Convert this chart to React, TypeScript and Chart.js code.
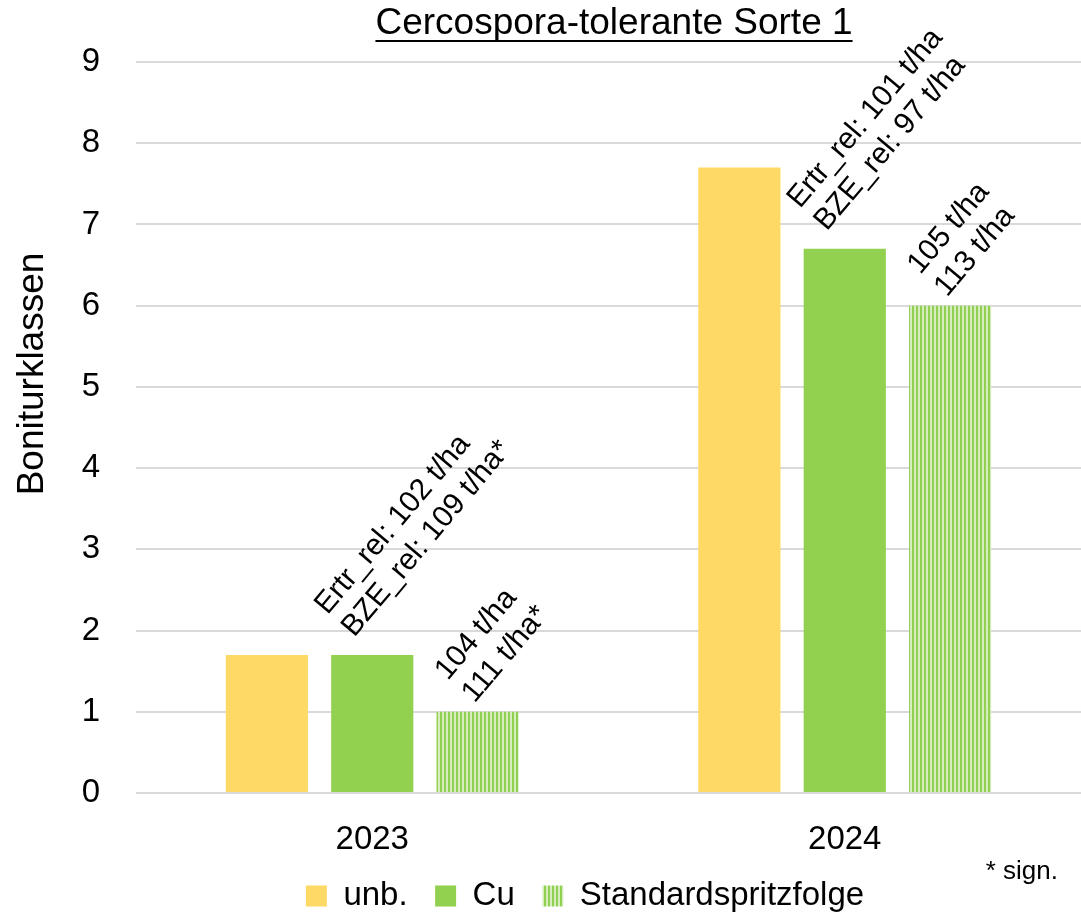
import React, { useEffect, useRef } from "react";
import { Chart, registerables } from "chart.js";

Chart.register(...registerables);

// ---- data ----
const categories = ["2023", "2024"];
const seriesNames = ["unb.", "Cu", "Standardspritzfolge"];
const unbValues = [1.7, 7.7];
const cuValues = [1.7, 6.7];
const standardValues = [1.0, 6.0];
const cuLabels = [
  ["Ertr_rel: 102 t/ha", "BZE_rel: 109 t/ha*"],
  ["Ertr_rel: 101 t/ha", "BZE_rel: 97 t/ha"],
];
const standardLabels = [
  ["104 t/ha", "111 t/ha*"],
  ["105 t/ha", "113 t/ha"],
];
const yMin = 0;
const yMax = 9;
const yStep = 1;
const chartTitle = "Cercospora-tolerante Sorte 1";
const yAxisTitle = "Boniturklassen";
const footnote = "* sign.";

// ---- styles ----
const FONT = "'Liberation Sans', Arial, sans-serif";
const YELLOW = "#FFD966";
const GREEN = "#92D050";
const GREEN_LIGHT = "#D6EDBF";
const GRID = "#D9D9D9";
const LABEL_ANGLE = (50 * Math.PI) / 180;

function stripePattern(): CanvasPattern | string {
  const tile = document.createElement("canvas");
  tile.width = 4;
  tile.height = 4;
  const t = tile.getContext("2d");
  if (!t) return GREEN;
  t.fillStyle = GREEN_LIGHT;
  t.fillRect(0, 0, 4, 4);
  t.fillStyle = GREEN;
  t.fillRect(0, 0, 2, 4);
  const p = t.createPattern(tile, "repeat");
  return p || GREEN;
}

// title (underlined), rotated y-axis title and footnote
const textPlugin = {
  id: "chartTexts",
  afterDraw(chart: any) {
    const ctx = chart.ctx as CanvasRenderingContext2D;
    ctx.save();
    ctx.fillStyle = "#000";

    // title
    ctx.font = `37px ${FONT}`;
    ctx.textAlign = "center";
    ctx.textBaseline = "alphabetic";
    const tx = 614;
    const ty = 34;
    ctx.fillText(chartTitle, tx, ty);
    const w = ctx.measureText(chartTitle).width;
    ctx.fillRect(tx - w / 2, 40, w, 2);

    // y-axis title
    ctx.save();
    ctx.font = `37px ${FONT}`;
    ctx.translate(43, 374);
    ctx.rotate(-Math.PI / 2);
    ctx.textAlign = "center";
    ctx.fillText(yAxisTitle, 0, 0);
    ctx.restore();

    // footnote
    ctx.font = `26px ${FONT}`;
    ctx.textAlign = "right";
    ctx.fillText(footnote, 1058, 879);
    ctx.restore();
  },
};

// rotated two-line yield labels above the Cu and standard bars
const barLabelPlugin = {
  id: "barLabels",
  afterDatasetsDraw(chart: any) {
    const ctx = chart.ctx as CanvasRenderingContext2D;
    const groups = [
      { datasetIndex: 1, lines: cuLabels, dx: -18, dy: -17 },
      { datasetIndex: 2, lines: standardLabels, dx: -3, dy: -8 },
    ];
    const lineGap = 35;
    ctx.save();
    ctx.font = `30px ${FONT}`;
    ctx.fillStyle = "#000";
    ctx.textAlign = "left";
    ctx.textBaseline = "alphabetic";
    for (const g of groups) {
      const meta = chart.getDatasetMeta(g.datasetIndex);
      meta.data.forEach((bar: any, i: number) => {
        const lines = g.lines[i];
        if (!lines) return;
        ctx.save();
        ctx.translate(bar.x + g.dx, bar.y + g.dy);
        ctx.rotate(-LABEL_ANGLE);
        lines.forEach((line: string, j: number) => {
          ctx.fillText(line, 0, -(lines.length - 1 - j) * lineGap);
        });
        ctx.restore();
      });
    }
    ctx.restore();
  },
};

// moves the legend row to the right
const LEGEND_SHIFT = 42;
const legendShiftPlugin = {
  id: "legendShift",
  afterLayout(chart: any) {
    const lg = chart.legend;
    if (lg) {
      lg.left += LEGEND_SHIFT;
      lg.right += LEGEND_SHIFT;
    }
  },
};

export default function App() {
  const canvasRef = useRef<HTMLCanvasElement | null>(null);

  useEffect(() => {
    const canvas = canvasRef.current;
    if (!canvas) return;
    const chart = new Chart(canvas, {
      type: "bar",
      data: {
        labels: categories,
        datasets: [
          { label: seriesNames[0], data: unbValues, backgroundColor: YELLOW, borderWidth: 0 },
          { label: seriesNames[1], data: cuValues, backgroundColor: GREEN, borderWidth: 0 },
          { label: seriesNames[2], data: standardValues, backgroundColor: stripePattern() as any, borderWidth: 0 },
        ],
      },
      options: {
        responsive: true,
        maintainAspectRatio: false,
        animation: false,
        categoryPercentage: 0.669,
        barPercentage: 0.78,
        layout: { padding: { top: 62, right: -5, bottom: -5.5, left: 0 } },
        scales: {
          x: {
            grid: { display: false, drawTicks: false },
            border: { display: false },
            ticks: { color: "#000", font: { family: FONT, size: 33, lineHeight: 1 }, padding: 30.5 },
            afterFit: (s: any) => {
              s.height = 59;
            },
          },
          y: {
            min: yMin,
            max: yMax,
            grid: { color: GRID, lineWidth: 2, drawTicks: false },
            border: { display: false },
            ticks: { stepSize: yStep, color: "#000", font: { family: FONT, size: 33 }, padding: 36 },
            afterFit: (s: any) => {
              s.width = 136;
            },
          },
        },
        plugins: {
          legend: {
            position: "bottom",
            labels: {
              boxWidth: 21,
              boxHeight: 21,
              padding: 27.5,
              color: "#000",
              font: { family: FONT, size: 33 },
            },
          },
          tooltip: { enabled: false },
          title: { display: false },
        },
      },
      plugins: [barLabelPlugin, textPlugin, legendShiftPlugin],
    });
    return () => chart.destroy();
  }, []);

  return (
    <div style={{ position: "fixed", left: 0, top: 0, width: 1081, height: 917, background: "#fff" }}>
      <canvas ref={canvasRef} />
    </div>
  );
}
